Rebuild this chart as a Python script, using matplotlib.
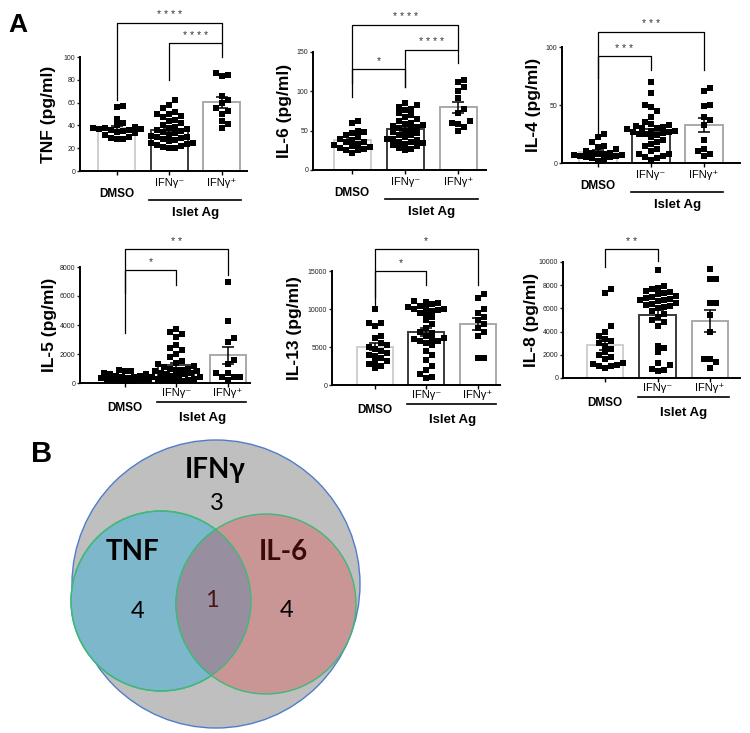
import numpy as np
import matplotlib
matplotlib.use("Agg")
import matplotlib.pyplot as plt
from matplotlib.patches import Circle

plt.rcParams["font.family"] = ["Liberation Sans", "DejaVu Sans"]

W, H = 750, 733

groups = ["DMSO", "IFNγ⁻", "IFNγ⁺"]
group_label = "Islet Ag"

# ---- values (pg/ml) ----
tnf_dmso = [57, 56, 46, 42, 40, 39, 38, 38, 37, 37, 36, 36, 35, 34, 33, 32, 30, 29, 28, 28]
tnf_neg = [62, 58, 55, 52, 50, 50, 48, 47, 45, 44, 42, 40, 39, 38, 37, 36, 35, 34, 33, 32,
           31, 30, 30, 29, 28, 27, 26, 25, 25, 24, 23, 22, 21, 20, 20]
tnf_pos = [86, 84, 83, 66, 62, 60, 55, 53, 50, 44, 41, 38]

il6_dmso = [62, 60, 50, 48, 47, 45, 42, 40, 38, 36, 35, 33, 32, 30, 29, 28, 27, 26, 25, 22]
il6_neg = [85, 82, 80, 78, 76, 72, 70, 68, 65, 62, 60, 58, 57, 56, 55, 53, 52, 50, 48, 47,
           45, 44, 42, 40, 39, 38, 36, 35, 34, 33, 32, 30, 28, 27, 25]
il6_pos = [115, 112, 105, 100, 92, 78, 72, 62, 60, 58, 55, 50]

il4_dmso = [25, 22, 18, 15, 14, 12, 10, 9, 9, 8, 8, 7, 7, 6, 6, 5, 5, 4, 3, 2]
il4_neg = [70, 60, 50, 48, 45, 40, 35, 34, 33, 32, 31, 30, 30, 29, 28, 28, 27, 27, 26, 25,
           25, 24, 22, 20, 18, 16, 15, 12, 10, 8, 8, 6, 5, 4, 3]
il4_pos = [65, 62, 50, 49, 40, 37, 33, 20, 12, 10, 8, 6]

il5_dmso = [900, 850, 800, 700, 650, 600, 500, 450, 400, 400, 350, 350, 300, 300, 250,
            250, 200, 200, 150, 100]
il5_neg = [3700, 3500, 3400, 3200, 2600, 2400, 2300, 2000, 1800, 1500, 1400, 1300, 1200,
           1100, 1000, 1000, 900, 900, 800, 800, 700, 700, 600, 600, 500, 500, 400, 400,
           300, 300, 250, 200, 200, 150, 100]
il5_pos = [7000, 4300, 3100, 2800, 1600, 1300, 700, 700, 400, 400, 400, 200]

il13_dmso = [10000, 8200, 8100, 7800, 6500, 6200, 5500, 5200, 5000, 4800, 4500, 4200, 4000,
             3800, 3600, 3200, 3000, 2800, 2500, 2200]
il13_neg = [11000, 10900, 10800, 10600, 10400, 10200, 10100, 10000, 10000, 9900, 9800, 9500,
            9300, 9000, 8500, 8000, 7500, 7000, 6800, 6500, 6000, 5800, 5500, 6200, 6000,
            5800, 5200, 4500, 4000, 3300, 2500, 2000, 1500, 1000, 900]
il13_pos = [12000, 11500, 10000, 9500, 9000, 8500, 8000, 7500, 7000, 6500, 3500, 3500]

il8_dmso = [7700, 7300, 4500, 4000, 3600, 3400, 3200, 3000, 2800, 2500, 2200, 2000, 1800,
            1600, 1300, 1200, 1100, 1000, 1000, 900]
il8_neg = [9300, 7900, 7800, 7700, 7500, 7400, 7300, 7200, 7100, 7000, 6900, 6800, 6700,
           6700, 6600, 6500, 6400, 6300, 6200, 6100, 6000, 5800, 5500, 5300, 5000, 4800,
           4500, 2800, 2600, 2200, 1300, 1100, 800, 700, 600]
il8_pos = [9400, 8500, 8500, 6500, 6500, 5400, 4000, 1600, 1400, 1600, 900]

# significance brackets: (group a, group b, bar height, left leg end, right leg end, stars)
tnf_sig = [(0, 2, 130, 62, 112, "****"), (1, 2, 112, 80, 100, "****")]
il6_sig = [(0, 2, 184, 93, 153, "****"), (0, 1, 129, 110, 106, "*"), (1, 2, 153, 106, 136, "****")]
il4_sig = [(0, 2, 113, 23, 80, "***"), (0, 1, 92, 73, 80, "***")]
il5_sig = [(0, 2, 9220, 3430, 7450, "**"), (0, 1, 7800, 6190, 6760, "*")]
il13_sig = [(0, 2, 17850, 10530, 13160, "*"), (0, 1, 15040, 11620, 13160, "*")]
il8_sig = [(0, 1, 11090, 9600, 10110, "**")]

# Venn: set names and region counts (IFNγ only, TNF only, both, IL-6 only)
venn_sets = ["IFNγ", "TNF", "IL-6"]
venn_counts = [3, 4, 1, 4]

# ---- layout (pixels: axis x, top, right end, zero line y) ----
panels = [
    dict(name="TNF (pg/ml)", data=[tnf_dmso, tnf_neg, tnf_pos], ymax=100,
         ticks=[0, 20, 40, 60, 80, 100], sig=tnf_sig, box=(80, 57, 247, 171),
         xlim=(-0.70, 2.48), row=0, lab=33),
    dict(name="IL-6 (pg/ml)", data=[il6_dmso, il6_neg, il6_pos], ymax=150,
         ticks=[0, 50, 100, 150], sig=il6_sig, box=(313, 52, 486, 170),
         xlim=(-0.74, 2.52), row=0, lab=30),
    dict(name="IL-4 (pg/ml)", data=[il4_dmso, il4_neg, il4_pos], ymax=100,
         ticks=[0, 50, 100], sig=il4_sig, box=(562, 47, 740, 163),
         xlim=(-0.68, 2.68), row=0, lab=30),
    dict(name="IL-5 (pg/ml)", data=[il5_dmso, il5_neg, il5_pos], ymax=8000,
         ticks=[0, 2000, 4000, 6000, 8000], sig=il5_sig, box=(80, 267, 250, 383),
         xlim=(-0.87, 2.43), row=1, lab=32),
    dict(name="IL-13 (pg/ml)", data=[il13_dmso, il13_neg, il13_pos], ymax=15000,
         ticks=[0, 5000, 10000, 15000], sig=il13_sig, box=(332, 271, 500, 385),
         xlim=(-0.83, 2.43), row=1, lab=39),
    dict(name="IL-8 (pg/ml)", data=[il8_dmso, il8_neg, il8_pos], ymax=10000,
         ticks=[0, 2000, 4000, 6000, 8000, 10000], sig=il8_sig, box=(563, 262, 740, 378),
         xlim=(-0.80, 2.57), row=1, lab=33),
]
# label offsets below the axis (px): IFN labels, DMSO, underline, Islet Ag
row_offsets = [(12, 23, 29, 42), (10, 25, 19, 35)]
bar_edges = ["#cfcfcf", "#3a3a3a", "#a9a9a9"]

fig = plt.figure(figsize=(W / 100, H / 100), dpi=100)


def swarm_offsets(vals, ymax, hpx, upx, d=6.0, wmax=24.0):
    # deterministic beeswarm, kept roughly inside the bar width
    ypx = np.asarray(vals, float) / ymax * hpx
    placed = []
    offs = np.zeros(len(vals))
    cands = [0.0]
    for k in range(1, int(wmax // d) + 1):
        cands += [k * d, -k * d]
    cands += [d * 0.5, -d * 0.5, d * 1.5, -d * 1.5, d * 2.5, -d * 2.5, d * 3.5, -d * 3.5]
    for k in np.argsort(ypx):
        y = ypx[k]
        best, best_gap = 0.0, -1.0
        for c in cands:
            gap = min([np.hypot(c - px, y - py) for px, py in placed] + [99.0])
            if gap >= d:
                best = c
                break
            if gap > best_gap:
                best, best_gap = c, gap
        placed.append((best, y))
        offs[k] = best / upx
    return offs


for p in panels:
    x0, y0, x1, y1 = p["box"]
    ax = fig.add_axes([x0 / W, 1 - y1 / H, (x1 - x0) / W, (y1 - y0) / H])
    hpx, wpx = y1 - y0, x1 - x0
    upx = wpx / (p["xlim"][1] - p["xlim"][0])
    for i, vals in enumerate(p["data"]):
        v = np.asarray(vals, float)
        m = v.mean()
        sem = v.std(ddof=1) / np.sqrt(len(v))
        ax.bar(i, m, width=0.7, color="white", edgecolor=bar_edges[i], linewidth=1.4, zorder=1)
        ax.scatter(i + swarm_offsets(v, p["ymax"], hpx, upx), v, marker="s", s=13,
                   color="black", linewidths=0, zorder=3)
        ax.errorbar(i, m, yerr=sem, color="black", capsize=4, elinewidth=1.1,
                    capthick=1.1, zorder=4)
    ax.set_xlim(*p["xlim"])
    ax.set_ylim(0, p["ymax"])
    ax.set_yticks(p["ticks"])
    ax.set_xticks([0, 1, 2])
    ax.set_xticklabels([])
    ax.tick_params(axis="y", labelsize=5, length=2.5, width=1, pad=1, colors="#222")
    ax.tick_params(axis="x", length=3, width=1)
    for s in ("top", "right"):
        ax.spines[s].set_visible(False)
    for s in ("left", "bottom"):
        ax.spines[s].set_linewidth(1.4)
    ax.patch.set_alpha(0)
    ax.set_ylabel(p["name"], fontsize=12.5, fontweight="bold")
    ax.yaxis.set_label_coords(-(p["lab"] - 9) / wpx, 0.5)

    # significance brackets
    for a, b, yb, ya, yc, stars in p["sig"]:
        ax.plot([a, a, b, b], [ya, yb, yb, yc], color="black", lw=0.9, clip_on=False)
        ax.annotate(" ".join(stars), xy=((a + b) / 2, yb), xytext=(0, 2),
                    textcoords="offset points", ha="center", va="bottom",
                    fontsize=7.5, color="#333", annotation_clip=False)

    # group labels
    o_ifn, o_dmso, o_line, o_islet = row_offsets[p["row"]]
    tr = ax.get_xaxis_transform()
    ax.text(0, -o_dmso / hpx, groups[0], transform=tr, ha="center", va="center",
            fontsize=8.5, fontweight="bold")
    for i in (1, 2):
        ax.text(i, -o_ifn / hpx, groups[i], transform=tr, ha="center", va="center",
                fontsize=8)
    ax.plot([0.62, 2.36], [-o_line / hpx] * 2, transform=tr, color="black", lw=1.2,
            clip_on=False)
    ax.text(1.5, -o_islet / hpx, group_label, transform=tr, ha="center", va="center",
            fontsize=9.5, fontweight="bold")

fig.text(8 / W, 1 - 32 / H, "A", fontsize=19, fontweight="bold", va="baseline")
fig.text(31 / W, 1 - 462 / H, "B", fontsize=21, fontweight="bold", va="baseline")

# ---- Venn diagram (axes in pixel units) ----
vx0, vx1, vy0, vy1 = 60, 380, 433, 733
av = fig.add_axes([vx0 / W, 1 - vy1 / H, (vx1 - vx0) / W, (vy1 - vy0) / H])
av.set_xlim(vx0, vx1)
av.set_ylim(vy1, vy0)
av.axis("off")
big = Circle((216, 584), 144, facecolor="#bfbfbf", edgecolor="#4f7ec9", lw=1)
c_tnf = Circle((161, 601), 90, facecolor="#7db7cb", edgecolor="#3fb87a", lw=1)
c_il6 = Circle((266, 604), 90, facecolor="#c99695", edgecolor="#3fb87a", lw=1)
av.add_patch(big)
av.add_patch(c_tnf)
av.add_patch(c_il6)
ov = Circle((266, 604), 90, facecolor="#978fa0", edgecolor="#3fb87a", lw=1)
av.add_patch(ov)
ov.set_clip_path(c_tnf)
ring = Circle((161, 601), 90, facecolor="none", edgecolor="#3fb87a", lw=1)
av.add_patch(ring)

vfont = ["Lato", "DejaVu Sans"]
av.text(215, 478, venn_sets[0], ha="center", va="baseline", fontsize=20,
        fontweight="bold", family=vfont)
av.text(133, 560, venn_sets[1], ha="center", va="baseline", fontsize=20,
        fontweight="bold", family=vfont)
av.text(283, 560, venn_sets[2], ha="center", va="baseline", fontsize=20,
        fontweight="bold", family=vfont, color="#3a0b0b")
av.text(217, 510, str(venn_counts[0]), ha="center", va="baseline", fontsize=17, family=vfont)
av.text(138, 618, str(venn_counts[1]), ha="center", va="baseline", fontsize=17, family=vfont)
av.text(212, 607, str(venn_counts[2]), ha="center", va="baseline", fontsize=17,
        family=vfont, color="#4a1515")
av.text(287, 617, str(venn_counts[3]), ha="center", va="baseline", fontsize=17, family=vfont)

fig.savefig("out.png", dpi=100)
